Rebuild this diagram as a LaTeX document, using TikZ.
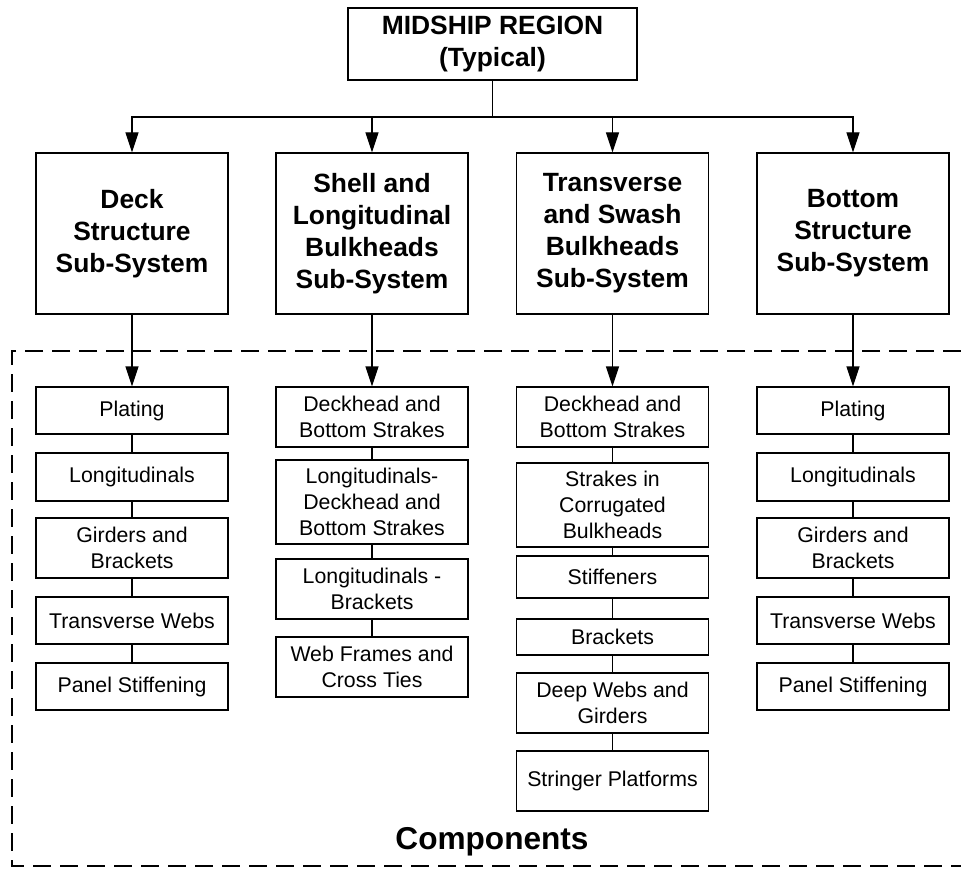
\documentclass[tikz,border=0pt]{standalone}
\usepackage{fontspec}
\setmainfont{Liberation Sans}
\usetikzlibrary{arrows.meta}
\tikzset{
  headbox/.style={draw, line width=1.1pt, align=center, inner sep=0pt,
    minimum width=192pt, font=\bfseries\fontsize{26.4}{32}\selectfont},
  compbox/.style={draw, line width=1.1pt, align=center, inner sep=0pt,
    minimum width=192pt, font=\fontsize{21.3}{26}\selectfont},
  arr/.style={line width=1.1pt, -{Triangle[length=20pt,width=13pt]}}
}
\begin{document}
\begin{tikzpicture}[x=1pt,y=-1pt]
\useasboundingbox (0,0) rectangle (961,869);
\draw[line width=1.1pt, dash pattern=on 18pt off 9pt] (961,351) -| (12,866) -- (961,866);
\node[headbox, minimum width=289pt, minimum height=72pt] (top) at (492.5,44) {MIDSHIP REGION\\(Typical)};
\node[headbox, minimum height=161pt] (deck) at (132,233.5) {Deck\\Structure\\Sub-System};
\node[headbox, minimum height=161pt] (shell) at (372,233.5) {Shell and\\Longitudinal\\Bulkheads\\Sub-System};
\node[headbox, minimum height=161pt] (trans) at (612.5,233.5) {Transverse\\and Swash\\Bulkheads\\Sub-System};
\node[headbox, minimum height=161pt] (bottom) at (853,233.5) {Bottom\\Structure\\Sub-System};
\coordinate (bus) at (492.5,117);
\draw[line width=1.1pt] (top) -- (bus);
\foreach \n in {deck,shell,trans,bottom}
  \draw[arr] (bus) -| (\n.north);
\foreach \c/\x in {dk/132,bt/853}{
  \node[compbox, minimum height=47pt] (\c1) at (\x,410.5) {Plating};
  \node[compbox, minimum height=48pt] (\c2) at (\x,477) {Longitudinals};
  \node[compbox, minimum height=60pt] (\c3) at (\x,548) {Girders and\\Brackets};
  \node[compbox, minimum height=47pt] (\c4) at (\x,620.5) {Transverse Webs};
  \node[compbox, minimum height=47pt] (\c5) at (\x,686.5) {Panel Stiffening};
}
\node[compbox, minimum height=60pt] (sh1) at (372,417) {Deckhead and\\Bottom Strakes};
\node[compbox, minimum height=84pt] (sh2) at (372,502) {Longitudinals-\\Deckhead and\\Bottom Strakes};
\node[compbox, minimum height=60pt] (sh3) at (372,589) {Longitudinals -\\Brackets};
\node[compbox, minimum height=60pt] (sh4) at (372,667) {Web Frames and\\Cross Ties};
\node[compbox, minimum height=60pt] (tr1) at (612.5,417) {Deckhead and\\Bottom Strakes};
\node[compbox, minimum height=84pt] (tr2) at (612.5,505) {Strakes in\\Corrugated\\Bulkheads};
\node[compbox, minimum height=42pt] (tr3) at (612.5,577) {Stiffeners};
\node[compbox, minimum height=36pt] (tr4) at (612.5,637) {Brackets};
\node[compbox, minimum height=60pt] (tr5) at (612.5,703) {Deep Webs and\\Girders};
\node[compbox, minimum height=60pt] (tr6) at (612.5,781) {Stringer Platforms};
\draw[arr] (deck) -- (dk1);
\draw[arr] (shell) -- (sh1);
\draw[arr] (trans) -- (tr1);
\draw[arr] (bottom) -- (bt1);
\foreach \a/\b in {dk1/dk2,dk2/dk3,dk3/dk4,dk4/dk5,bt1/bt2,bt2/bt3,bt3/bt4,bt4/bt5,
  sh1/sh2,sh2/sh3,sh3/sh4,tr1/tr2,tr2/tr3,tr3/tr4,tr4/tr5,tr5/tr6}
  \draw[line width=1.1pt] (\a) -- (\b);
\node[font=\bfseries\fontsize{31.6}{38}\selectfont] (comp) at (492,842) {Components};
\end{tikzpicture}
\end{document}
